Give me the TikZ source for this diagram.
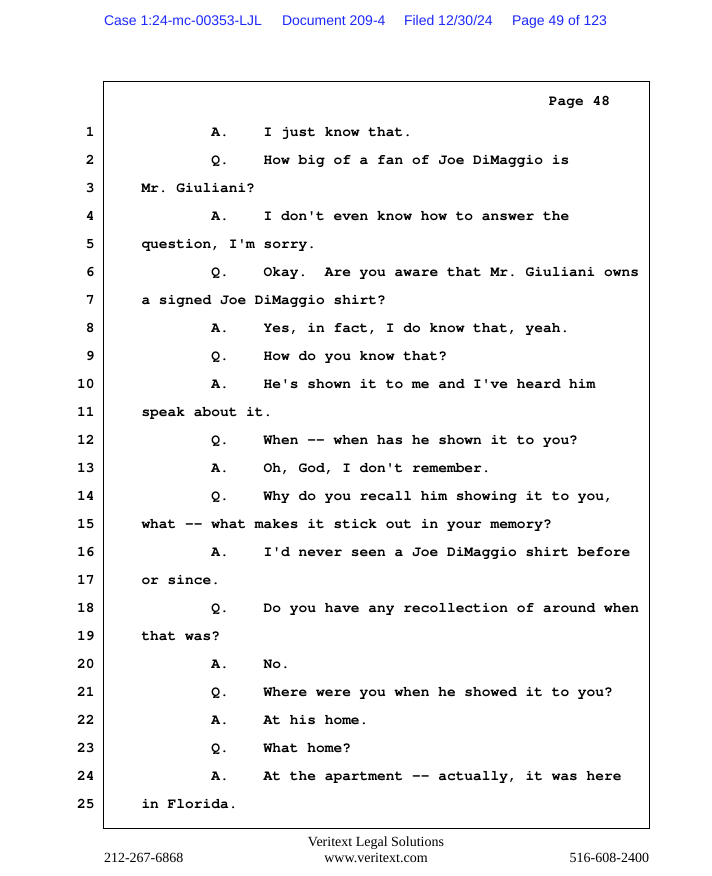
\documentclass[tikz,border=0pt]{standalone}
\usepackage[T1]{fontenc}
\usepackage{fontspec}
\newfontfamily\hdrfont{Liberation Sans}
\newfontfamily\footfont{Liberation Serif}
\definecolor{hdrblue}{RGB}{30,40,250}

\begin{document}
\begin{tikzpicture}[x=1bp,y=-1bp]
\tikzstyle{every node}=[inner sep=0pt,outer sep=0pt]
\tikzstyle{hdr}=[anchor=base west,text=hdrblue,font=\hdrfont\fontsize{14bp}{16bp}\selectfont]
\tikzstyle{dep}=[anchor=base west,font=\fontencoding{T1}\fontfamily{pcr}\fontseries{b}\fontsize{14.55bp}{17bp}\selectfont\frenchspacing]
\tikzstyle{num}=[dep,anchor=base east]
\tikzstyle{foot}=[anchor=base,font=\footfont\fontsize{14bp}{16bp}\selectfont]
\fill[white] (0,0) rectangle (712,876);
\useasboundingbox (0,0) rectangle (712,876);
\node[hdr] (case) at (104,25) {Case 1:24-mc-00353-LJL};
\node[hdr] (doc) at (282,25) {Document 209-4};
\node[hdr] (filed) at (404,25) {Filed 12/30/24};
\node[hdr] (pgof) at (512,25) {Page 49 of 123};
\draw[line width=1bp] (103,81) rectangle (649,828);
\node[dep,anchor=base east] (pg) at (610,105) {Page 48};
\foreach \n in {1,...,25}
  \node[num] (n\n) at (94.5,{136.5+28*(\n-1)}) {\n};
\node[dep] (s1) at (211.3,136.5) {A.};
\node[dep] (t1) at (263.7,136.5) {I just know that.};
\node[dep] (s2) at (211.3,164.5) {Q.};
\node[dep] (t2) at (263.7,164.5) {How big of a fan of Joe DiMaggio is};
\node[dep] (t3) at (141.5,192.5) {Mr. Giuliani?};
\node[dep] (s4) at (211.3,220.5) {A.};
\node[dep] (t4) at (263.7,220.5) {I don\textquotesingle t even know how to answer the};
\node[dep] (t5) at (141.5,248.5) {question, I\textquotesingle m sorry.};
\node[dep] (s6) at (211.3,276.5) {Q.};
\node[dep] (t6) at (263.7,276.5) {Okay.\ \ Are you aware that Mr. Giuliani owns};
\node[dep] (t7) at (141.5,304.5) {a signed Joe DiMaggio shirt?};
\node[dep] (s8) at (211.3,332.5) {A.};
\node[dep] (t8) at (263.7,332.5) {Yes, in fact, I do know that, yeah.};
\node[dep] (s9) at (211.3,360.5) {Q.};
\node[dep] (t9) at (263.7,360.5) {How do you know that?};
\node[dep] (s10) at (211.3,388.5) {A.};
\node[dep] (t10) at (263.7,388.5) {He\textquotesingle s shown it to me and I\textquotesingle ve heard him};
\node[dep] (t11) at (141.5,416.5) {speak about it.};
\node[dep] (s12) at (211.3,444.5) {Q.};
\node[dep] (t12) at (263.7,444.5) {When -{}- when has he shown it to you?};
\node[dep] (s13) at (211.3,472.5) {A.};
\node[dep] (t13) at (263.7,472.5) {Oh, God, I don\textquotesingle t remember.};
\node[dep] (s14) at (211.3,500.5) {Q.};
\node[dep] (t14) at (263.7,500.5) {Why do you recall him showing it to you,};
\node[dep] (t15) at (141.5,528.5) {what -{}- what makes it stick out in your memory?};
\node[dep] (s16) at (211.3,556.5) {A.};
\node[dep] (t16) at (263.7,556.5) {I\textquotesingle d never seen a Joe DiMaggio shirt before};
\node[dep] (t17) at (141.5,584.5) {or since.};
\node[dep] (s18) at (211.3,612.5) {Q.};
\node[dep] (t18) at (263.7,612.5) {Do you have any recollection of around when};
\node[dep] (t19) at (141.5,640.5) {that was?};
\node[dep] (s20) at (211.3,668.5) {A.};
\node[dep] (t20) at (263.7,668.5) {No.};
\node[dep] (s21) at (211.3,696.5) {Q.};
\node[dep] (t21) at (263.7,696.5) {Where were you when he showed it to you?};
\node[dep] (s22) at (211.3,724.5) {A.};
\node[dep] (t22) at (263.7,724.5) {At his home.};
\node[dep] (s23) at (211.3,752.5) {Q.};
\node[dep] (t23) at (263.7,752.5) {What home?};
\node[dep] (s24) at (211.3,780.5) {A.};
\node[dep] (t24) at (263.7,780.5) {At the apartment -{}- actually, it was here};
\node[dep] (t25) at (141.5,808.5) {in Florida.};
\node[foot] (firm) at (376,846) {Veritext Legal Solutions};
\node[foot,anchor=base west] (tel1) at (104,862) {212-267-6868};
\node[foot] (web) at (376,862) {www.veritext.com};
\node[foot,anchor=base east] (tel2) at (649,862) {516-608-2400};
\end{tikzpicture}
\end{document}
